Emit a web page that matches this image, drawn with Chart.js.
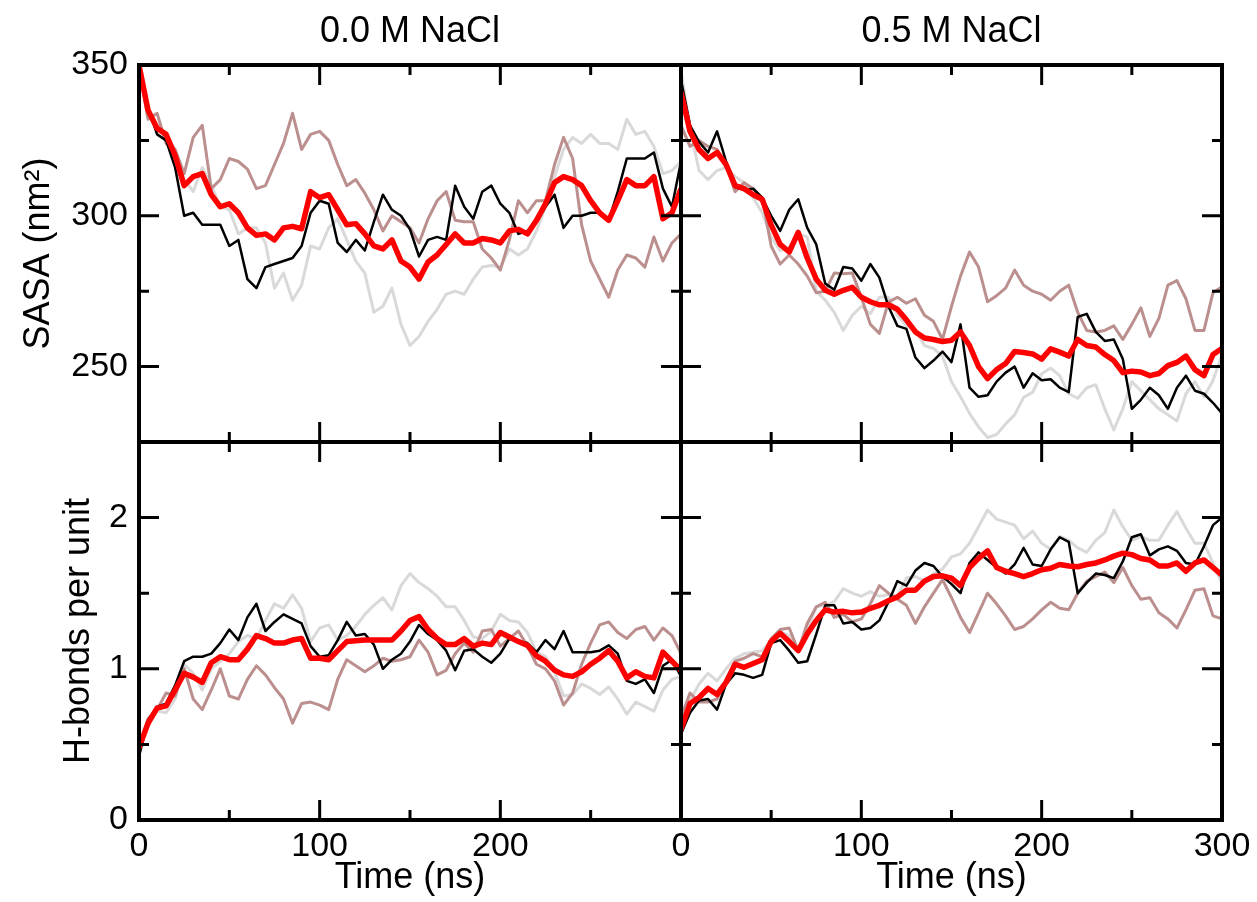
<!DOCTYPE html>
<html>
<head>
<meta charset="utf-8">
<title>SASA and H-bonds vs time</title>
<script src="https://cdn.jsdelivr.net/npm/chart.js@4.4.1/dist/chart.umd.min.js"></script>
<style>
  body { margin: 0; background: #fff; }
  #wrap { position: relative; width: 1257px; height: 902px; font-family: "Liberation Sans", Arial, Helvetica, sans-serif; }
  #wrap canvas { position: absolute; left: 0; top: 0; }
  .panel-title { position: absolute; top: 12px; font-size: 36px; line-height: 36px; text-align: center; color: #000; }
</style>
</head>
<body>
<div id="wrap">
  <canvas id="sasa0" width="1257" height="902"></canvas>
  <canvas id="sasa5" width="1257" height="902"></canvas>
  <canvas id="hb0" width="1257" height="902"></canvas>
  <canvas id="hb5" width="1257" height="902"></canvas>
  <div class="panel-title" style="left:139px;width:542px">0.0 M NaCl</div>
  <div class="panel-title" style="left:681px;width:541px">0.5 M NaCl</div>
</div>
<script>
// Data ----------------------------------------------------------------------->
// time axis (ns), one sample every 5 ns
const time = [0, 5, 10, 15, 20, 25, 30, 35, 40, 45, 50, 55, 60, 65, 70, 75, 80, 85, 90, 95,
  100, 105, 110, 115, 120, 125, 130, 135, 140, 145, 150, 155, 160, 165, 170, 175, 180, 185, 190, 195,
  200, 205, 210, 215, 220, 225, 230, 235, 240, 245, 250, 255, 260, 265, 270, 275, 280, 285, 290, 295, 300];

// tick values
const timeMajor = [0, 100, 200, 300];
const timeMinor = [50, 150, 250];
const timeLabelsLeft = [0, 100, 200];
const timeLabelsRight = [0, 100, 200, 300];
const sasaMajor = [250, 300, 350];
const sasaMinor = [225, 275, 325];
const hbMajor = [0, 1, 2];
const hbMinor = [0.5, 1.5, 2.5];

// SASA (nm2), 0.0 M NaCl
const sasa0Red = [350, 335, 329, 327, 320, 310, 313, 314, 307, 303, 304, 301, 296, 293.5, 294, 292, 296, 296.5, 295.7, 308,
  306, 307, 302, 297, 297.4, 294, 290, 289, 292, 285, 283, 279, 284.7, 287, 290.5, 294, 291, 291, 292.5, 292,
  291, 295, 295.5, 294, 298.5, 304, 311, 313, 312, 310, 305, 301, 298.5, 305, 312, 310, 310, 313, 299, 301, 309];
const sasa0Black = [350, 336, 327, 325, 316, 300, 301, 297, 297, 297, 290, 292, 279, 276, 283, 284, 285, 286, 290, 301,
  305, 304, 291, 288, 292, 288.5, 298, 307, 302, 300, 295.5, 286.5, 292, 293, 292, 310, 303, 299, 308, 310,
  304, 301, 294, 295, 298, 303, 307, 296, 300, 300, 301, 301, 298.5, 308, 319, 319, 319, 321, 309, 303, 318];
const sasa0Gray = [349, 333, 330, 326, 322, 312, 308, 316, 310, 303, 302, 294, 296, 296, 291, 276, 281, 272, 277, 290,
  289, 296, 299, 292, 285, 281, 268, 270, 276, 264, 257, 260, 265, 269, 274, 275, 274, 279, 283, 283.5,
  283, 289, 287, 289, 295, 303, 313, 322, 326, 324, 327, 324, 324, 322, 332, 327, 328, 323, 314, 315, 318];
const sasa0Brown = [349, 332, 334, 324, 322, 314, 326, 330, 309, 312, 319, 318, 315.5, 309, 310, 317, 324, 334, 322, 327,
  328, 325, 317, 310, 312, 307.5, 302, 295, 300, 298, 296, 291, 299, 305, 308, 298.5, 298, 298, 289, 286,
  282, 292, 305, 301, 305, 305, 317, 326, 319, 297, 285, 279, 273, 282, 287, 286, 283, 293, 285, 291, 294];

// SASA (nm2), 0.5 M NaCl
const sasa5Red = [341, 328, 322, 319, 321, 317, 310, 309, 307, 305.5, 297, 290.5, 288, 294.5, 286, 279, 275.3, 274, 275.3, 276.3,
  273, 271.5, 270.5, 270.5, 269, 265.5, 261.5, 259.5, 259, 258.3, 258.7, 261.5, 257, 250, 246, 249, 251, 255, 254.7, 254.2,
  252.5, 255.9, 254.8, 253.5, 259, 257, 256.5, 254, 252, 248, 248.5, 248.2, 247, 247.7, 250.3, 251.4, 253.5, 249, 247, 254, 256];
const sasa5Black = [345, 330, 324.5, 321, 328, 318, 309.5, 308.5, 309, 306, 300, 295, 302, 305.5, 296, 290.5, 277.5, 275.5, 283, 282.5,
  278.5, 284, 279.5, 270, 263.5, 262.5, 253, 249.5, 252, 255, 251.5, 264, 243, 240, 240.5, 245, 248, 250, 243, 247.8,
  245.5, 245.8, 243, 241.5, 266.5, 267.5, 261.5, 258.5, 259, 252.5, 236, 239, 243, 240.5, 236, 243, 247, 242, 241, 238, 234.5];
const sasa5Gray = [348, 329, 315, 312, 315, 316, 313, 311, 306, 301, 293, 288.5, 289.5, 294, 293, 275, 272, 268, 262, 267,
  270, 267.5, 273, 273, 267, 263.5, 262.3, 257, 256, 253.5, 245, 240, 234.5, 230, 226.5, 227.5, 231, 234, 239.8, 241.5,
  247.6, 249.5, 247, 241, 239.5, 243, 244, 236, 229, 236, 245, 242, 239, 236, 234, 232, 241, 245, 240, 245.4, 254];
const sasa5Brown = [330, 323, 325, 323, 322, 317, 308, 311, 309, 306, 290, 284, 287, 284, 280, 274.5, 275, 281, 280.8, 281,
  273, 264, 261, 271.4, 273, 271, 272.5, 267, 265, 259, 270, 280, 288, 283, 271.5, 273.5, 276, 282, 277, 275,
  274, 272, 275, 277, 268, 262, 261.5, 262, 263.5, 259, 264, 269.5, 260, 266, 277, 278.5, 272.5, 262, 262, 274.5, 276.5];

// H-bonds per unit, 0.0 M NaCl
const hb0Red = [0.48, 0.64, 0.74, 0.755, 0.86, 0.97, 0.945, 0.91, 1.04, 1.08, 1.06, 1.06, 1.13, 1.22, 1.2, 1.17, 1.17, 1.19, 1.2, 1.07,
  1.07, 1.06, 1.12, 1.18, 1.185, 1.19, 1.19, 1.19, 1.19, 1.25, 1.32, 1.345, 1.26, 1.2, 1.16, 1.16, 1.2, 1.15, 1.17, 1.16,
  1.24, 1.21, 1.18, 1.155, 1.085, 1.05, 0.99, 0.96, 0.95, 0.98, 1.03, 1.07, 1.12, 1.05, 0.94, 0.98, 0.95, 0.94, 1.11, 1.05, 0.99];
const hb0Black = [0.42, 0.66, 0.75, 0.77, 0.89, 1.05, 1.08, 1.08, 1.1, 1.17, 1.26, 1.19, 1.34, 1.43, 1.25, 1.31, 1.36, 1.33, 1.3, 1.15,
  1.08, 1.09, 1.19, 1.31, 1.22, 1.23, 1.16, 1.0, 1.06, 1.1, 1.18, 1.29, 1.23, 1.19, 1.12, 0.99, 1.12, 1.13, 1.08, 1.04,
  1.1, 1.2, 1.18, 1.17, 1.11, 1.19, 1.13, 1.25, 1.11, 1.11, 1.11, 1.12, 1.155, 1.1, 0.92, 0.9, 0.93, 0.84, 1.02, 1.06, 0.95];
const hb0Gray = [0.45, 0.65, 0.72, 0.71, 0.8, 1.03, 0.97, 0.86, 1.0, 1.05, 1.1, 1.18, 1.22, 1.2, 1.32, 1.43, 1.4, 1.49, 1.4, 1.18,
  1.27, 1.29, 1.19, 1.22, 1.28, 1.36, 1.42, 1.47, 1.39, 1.55, 1.63, 1.57, 1.53, 1.48, 1.41, 1.41, 1.32, 1.21, 1.2, 1.25,
  1.36, 1.32, 1.31, 1.24, 1.11, 1.08, 0.98, 0.82, 0.83, 0.9, 0.87, 0.83, 0.88, 0.8, 0.7, 0.78, 0.75, 0.72, 0.86, 0.93, 0.95];
const hb0Brown = [0.47, 0.67, 0.73, 0.84, 0.82, 1.0, 0.8, 0.73, 0.86, 1.0, 0.82, 0.8, 0.93, 1.02, 0.96, 0.875, 0.8, 0.64, 0.77, 0.78,
  0.76, 0.73, 0.93, 1.06, 1.02, 0.98, 1.02, 1.07, 1.05, 1.06, 1.08, 1.19, 1.11, 0.96, 0.99, 1.1, 1.17, 1.11, 1.25, 1.26,
  1.15, 1.2, 1.25, 1.15, 1.03, 1.0, 0.92, 0.76, 0.84, 1.03, 1.17, 1.29, 1.31, 1.24, 1.2, 1.26, 1.28, 1.19, 1.27, 1.22, 1.1];

// H-bonds per unit, 0.5 M NaCl
const hb5Red = [0.6, 0.77, 0.81, 0.87, 0.83, 0.91, 1.03, 1.01, 1.035, 1.06, 1.18, 1.235, 1.18, 1.12, 1.23, 1.32, 1.39, 1.375, 1.38, 1.37,
  1.375, 1.4, 1.42, 1.45, 1.475, 1.52, 1.52, 1.58, 1.61, 1.615, 1.6, 1.55, 1.67, 1.73, 1.78, 1.67, 1.645, 1.63, 1.61, 1.63,
  1.655, 1.665, 1.69, 1.68, 1.675, 1.69, 1.7, 1.72, 1.745, 1.765, 1.755, 1.73, 1.72, 1.68, 1.68, 1.7, 1.645, 1.7, 1.72, 1.67, 1.62];
const hb5Black = [0.57, 0.71, 0.79, 0.8, 0.73, 0.9, 0.97, 0.96, 0.94, 0.96, 1.17, 1.19, 1.12, 1.04, 1.05, 1.23, 1.42, 1.42, 1.3, 1.31,
  1.26, 1.27, 1.32, 1.44, 1.58, 1.55, 1.65, 1.7, 1.68, 1.61, 1.56, 1.5, 1.7, 1.77, 1.72, 1.67, 1.63, 1.69, 1.8, 1.69,
  1.68, 1.79, 1.87, 1.84, 1.5, 1.57, 1.63, 1.62, 1.6, 1.71, 1.87, 1.89, 1.75, 1.79, 1.81, 1.78, 1.7, 1.69, 1.81, 1.95, 2.0];
const hb5Gray = [0.56, 0.79, 0.9, 0.97, 0.92, 1.0, 1.07, 1.1, 1.11, 1.12, 1.19, 1.245, 1.22, 1.13, 1.25, 1.41, 1.42, 1.445, 1.53, 1.5,
  1.48, 1.51, 1.48, 1.49, 1.48, 1.6, 1.61, 1.58, 1.63, 1.66, 1.74, 1.76, 1.83, 1.94, 2.05, 1.99, 1.97, 1.95, 1.86, 1.91,
  1.83, 1.79, 1.875, 1.85, 1.8, 1.77, 1.85, 1.9, 2.05, 1.94, 1.85, 1.875, 1.85, 1.85, 1.95, 2.04, 1.93, 1.83, 1.83, 1.7, 1.56];
const hb5Brown = [0.68, 0.84, 0.78, 0.78, 0.8, 0.93, 1.05, 1.07, 1.1, 1.08, 1.2, 1.26, 1.27, 1.12, 1.3, 1.41, 1.44, 1.34, 1.36, 1.31,
  1.33, 1.43, 1.55, 1.5, 1.46, 1.42, 1.3, 1.41, 1.5, 1.59, 1.47, 1.34, 1.24, 1.37, 1.5, 1.43, 1.35, 1.26, 1.28, 1.33,
  1.39, 1.44, 1.4, 1.39, 1.5, 1.58, 1.61, 1.64, 1.57, 1.67, 1.55, 1.46, 1.47, 1.37, 1.33, 1.27, 1.39, 1.52, 1.53, 1.35, 1.33];

// Chart setup ---------------------------------------------------------------->
Chart.defaults.font.family = '"Liberation Sans", Arial, Helvetica, sans-serif';
Chart.defaults.color = '#000';

const tickFont = { size: 34 };
const titleFont = { size: 36 };

// frame + inward ticks on all four sides (major long, minor short)
const frameTicks = {
  id: 'frameTicks',
  afterDatasetsDraw(chart, args, opts) {
    const { ctx, chartArea: a } = chart;
    const xs = chart.scales.x;
    const ys = chart.scales.y;
    ctx.save();
    ctx.strokeStyle = '#000';
    ctx.lineWidth = 3;
    ctx.beginPath();
    const vTick = (v, len) => {
      const px = xs.getPixelForValue(v);
      ctx.moveTo(px, a.bottom); ctx.lineTo(px, a.bottom - len);
      ctx.moveTo(px, a.top); ctx.lineTo(px, a.top + len);
    };
    const hTick = (v, len) => {
      const py = ys.getPixelForValue(v);
      ctx.moveTo(a.left, py); ctx.lineTo(a.left + len, py);
      ctx.moveTo(a.right, py); ctx.lineTo(a.right - len, py);
    };
    opts.xMajor.forEach(v => vTick(v, 20));
    opts.xMinor.forEach(v => vTick(v, 10));
    opts.yMajor.forEach(v => hTick(v, 20));
    opts.yMinor.forEach(v => hTick(v, 10));
    ctx.stroke();
    ctx.lineWidth = 4;
    ctx.strokeRect(a.left, a.top, a.right - a.left, a.bottom - a.top);
    ctx.restore();
  }
};

function toPoints(values) {
  return time.map((t, i) => ({ x: t, y: values[i] }));
}

function line(values, color, width) {
  return {
    data: toPoints(values),
    borderColor: color,
    borderWidth: width,
    pointRadius: 0,
    tension: 0,
    fill: false,
    borderJoinStyle: 'round'
  };
}

function panel(canvasId, cfg) {
  const showX = !!cfg.xTitle;
  const showY = !!cfg.yTitle;
  return new Chart(document.getElementById(canvasId), {
    type: 'line',
    data: {
      // first dataset is drawn on top
      datasets: [
        line(cfg.red, '#ff0000', 5.5),
        line(cfg.black, '#000000', 2.5),
        line(cfg.brown, '#bc8f8f', 3),
        line(cfg.gray, '#d9d9d9', 3)
      ]
    },
    options: {
      responsive: false,
      animation: false,
      events: [],
      layout: { padding: cfg.padding },
      plugins: {
        legend: { display: false },
        tooltip: { enabled: false },
        frameTicks: { xMajor: timeMajor, xMinor: timeMinor, yMajor: cfg.yMajor, yMinor: cfg.yMinor }
      },
      scales: {
        x: {
          type: 'linear', min: 0, max: 300, display: showX,
          afterBuildTicks: s => { s.ticks = cfg.xLabels.map(v => ({ value: v })); },
          afterFit: s => { if (showX) s.height = 80; },
          grid: { display: false, drawTicks: false },
          border: { display: false },
          ticks: { padding: 6, autoSkip: false, maxRotation: 0, font: tickFont, color: '#000' },
          title: { display: showX, text: cfg.xTitle || '', font: titleFont, color: '#000', padding: 0 }
        },
        y: {
          type: 'linear', min: cfg.yMin, max: cfg.yMax, display: showY,
          afterBuildTicks: s => { s.ticks = cfg.yMajor.map(v => ({ value: v })); },
          afterFit: s => { if (showY) s.width = 139; },
          grid: { display: false, drawTicks: false },
          border: { display: false },
          ticks: { padding: 11, autoSkip: false, font: tickFont, color: '#000' },
          title: { display: showY, text: cfg.yTitle || '', font: titleFont, color: '#000',
                   padding: { top: cfg.yTitlePad || 0, bottom: 0 } }
        }
      }
    },
    plugins: [frameTicks]
  });
}

panel('sasa0', {
  red: sasa0Red, black: sasa0Black, brown: sasa0Brown, gray: sasa0Gray,
  yMin: 225, yMax: 350, yMajor: sasaMajor, yMinor: sasaMinor,
  xLabels: timeLabelsLeft, yTitle: 'SASA (nm²)', yTitlePad: 17,
  padding: { left: 0, top: 65, right: 576, bottom: 460 }
});
panel('sasa5', {
  red: sasa5Red, black: sasa5Black, brown: sasa5Brown, gray: sasa5Gray,
  yMin: 225, yMax: 350, yMajor: sasaMajor, yMinor: sasaMinor,
  xLabels: timeLabelsRight,
  padding: { left: 681, top: 65, right: 35, bottom: 460 }
});
panel('hb0', {
  red: hb0Red, black: hb0Black, brown: hb0Brown, gray: hb0Gray,
  yMin: 0, yMax: 2.5, yMajor: hbMajor, yMinor: hbMinor,
  xLabels: timeLabelsLeft, xTitle: 'Time (ns)', yTitle: 'H-bonds per unit', yTitlePad: 57,
  padding: { left: 0, top: 442, right: 576, bottom: 2 }
});
panel('hb5', {
  red: hb5Red, black: hb5Black, brown: hb5Brown, gray: hb5Gray,
  yMin: 0, yMax: 2.5, yMajor: hbMajor, yMinor: hbMinor,
  xLabels: timeLabelsRight, xTitle: 'Time (ns)',
  padding: { left: 681, top: 442, right: 35, bottom: 2 }
});
</script>
</body>
</html>
